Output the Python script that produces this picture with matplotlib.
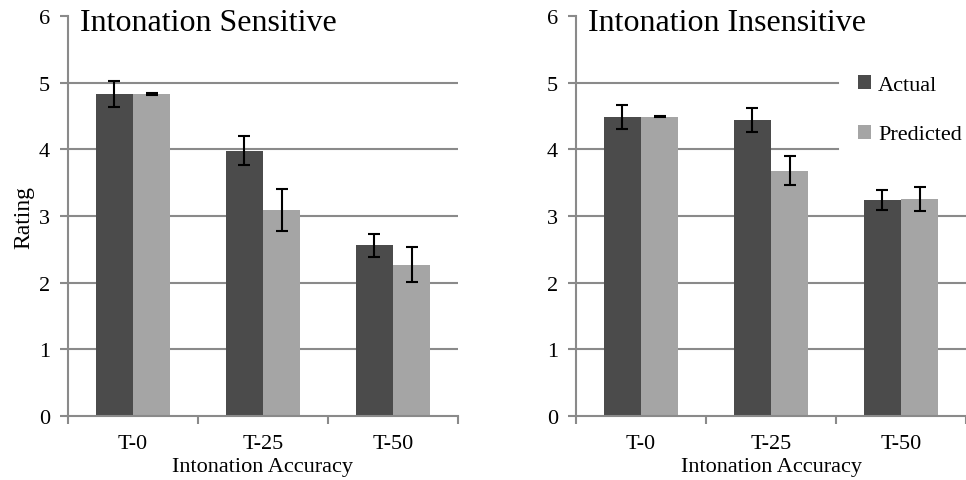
import matplotlib.pyplot as plt
import numpy as np

plt.rcParams['font.family'] = ['Liberation Serif', 'DejaVu Serif']

# Data
categories = ['T-0', 'T-25', 'T-50']
series = ['Actual', 'Predicted']

sens_actual = [4.83, 3.98, 2.56]
sens_actual_err = [0.20, 0.22, 0.17]
sens_pred = [4.83, 3.09, 2.27]
sens_pred_err = [0.01, 0.32, 0.26]

insens_actual = [4.49, 4.44, 3.24]
insens_actual_err = [0.18, 0.18, 0.15]
insens_pred = [4.49, 3.68, 3.26]
insens_pred_err = [0.005, 0.22, 0.18]

dark = '#4b4b4b'
light = '#a5a5a5'
axis_col = '#8a8a8a'

fig = plt.figure(figsize=(9.66, 4.81), dpi=100)
ax1 = fig.add_axes([0.0704, 0.133, 0.4037, 0.8316])
ax2 = fig.add_axes([0.5963, 0.133, 0.4037, 0.8316])


def draw_panel(ax, title, act, act_err, pred, pred_err, grid_stop=None):
    x = np.arange(len(categories))
    w = 0.285
    for y in range(1, 6):
        xmax = 1.0
        if grid_stop is not None and y >= 4:
            xmax = grid_stop
        ax.axhline(y, xmin=0, xmax=xmax, color=axis_col, lw=1.5, zorder=0)
    ax.bar(x - w / 2, act, w, color=dark, label=series[0], zorder=2)
    ax.bar(x + w / 2, pred, w, color=light, label=series[1], zorder=2)
    ax.errorbar(x - w / 2, act, yerr=act_err, fmt='none', ecolor='black',
                elinewidth=1.5, capsize=4, capthick=1.5, zorder=3)
    ax.errorbar(x + w / 2, pred, yerr=pred_err, fmt='none', ecolor='black',
                elinewidth=1.5, capsize=4, capthick=1.5, zorder=3)
    ax.set_xlim(-0.5, len(categories) - 0.5)
    ax.set_ylim(0, 6)
    ax.set_yticks(range(7))
    ax.set_xticks(x)
    ax.set_xticklabels(categories, fontsize=16)
    ax.set_xticks(np.arange(-0.5, len(categories)), minor=True)
    ax.tick_params(axis='x', which='major', length=0, pad=13)
    ax.tick_params(axis='x', which='minor', length=6, color=axis_col, width=1.5)
    ax.tick_params(axis='y', length=6, color=axis_col, width=1.5, labelsize=16, pad=7)
    for s in ['top', 'right']:
        ax.spines[s].set_visible(False)
    for s in ['left', 'bottom']:
        ax.spines[s].set_color(axis_col)
        ax.spines[s].set_linewidth(1.5)
    ax.set_xlabel('Intonation Accuracy', fontsize=16, labelpad=3)
    ax.text(0.03, 0.985, title, transform=ax.transAxes, fontsize=23,
            va='center', ha='left')


draw_panel(ax1, 'Intonation Sensitive', sens_actual, sens_actual_err,
           sens_pred, sens_pred_err)
ax1.set_ylabel('Rating', fontsize=17, labelpad=3)

draw_panel(ax2, 'Intonation Insensitive', insens_actual, insens_actual_err,
           insens_pred, insens_pred_err, grid_stop=0.672)
leg = ax2.legend(loc='upper left', bbox_to_anchor=(0.70, 0.875), frameon=False,
                 fontsize=16, handlelength=0.6, handleheight=0.6,
                 handletextpad=0.3, labelspacing=1.34, borderaxespad=0)

fig.savefig('out.png', dpi=100)
